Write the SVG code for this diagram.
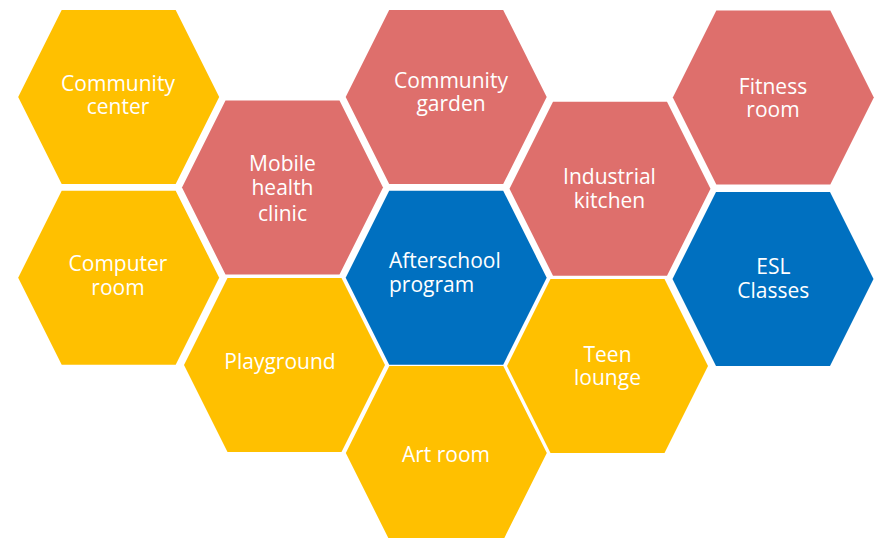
<svg xmlns="http://www.w3.org/2000/svg" width="882" height="538" viewBox="0 0 882 538">
  <style>
    .y { fill: #FFC000; }
    .r { fill: #DE6F6C; }
    .b { fill: #0070C0; }
    text { font-family: "Open Sans", "DejaVu Sans", sans-serif; font-size: 21px; fill: #FFFFFF; text-anchor: middle; }
    .left { text-anchor: start; }
  </style>
  <defs>
    <path id="hex" d="M -100.5 0 L -57 -87 L 57 -87 L 100.5 0 L 57 87 L -57 87 Z"/>
  </defs>
  <rect x="0" y="0" width="882" height="538" fill="#FFFFFF"/>
  <g id="connectors"/>
  <g id="community-center">
    <use href="#hex" class="y" transform="translate(118.7 97)"/>
    <text x="118" y="91">Community</text>
    <text x="118" y="114">center</text>
  </g>
  <g id="computer-room">
    <use href="#hex" class="y" transform="translate(118.7 277.7)"/>
    <text x="118" y="271">Computer</text>
    <text x="118" y="295">room</text>
  </g>
  <g id="mobile-health-clinic">
    <use href="#hex" class="r" transform="translate(282.5 187.5)"/>
    <text x="282.5" y="171">Mobile</text>
    <text x="282.5" y="195">health</text>
    <text x="282.5" y="221">clinic</text>
  </g>
  <g id="playground">
    <use href="#hex" class="y" transform="translate(284.5 365)"/>
    <text x="280" y="369">Playground</text>
  </g>
  <g id="community-garden">
    <use href="#hex" class="r" transform="translate(446.2 97)"/>
    <text x="451" y="88">Community</text>
    <text x="451" y="111">garden</text>
  </g>
  <g id="afterschool-program">
    <use href="#hex" class="b" transform="translate(446.2 277.7)"/>
    <text class="left" x="389" y="268">Afterschool</text>
    <text class="left" x="389" y="292">program</text>
  </g>
  <g id="art-room">
    <use href="#hex" class="y" transform="translate(446.3 453)"/>
    <text x="446" y="462">Art room</text>
  </g>
  <g id="industrial-kitchen">
    <use href="#hex" class="r" transform="translate(610 188.7)"/>
    <text x="609.5" y="184">Industrial</text>
    <text x="609.5" y="208">kitchen</text>
  </g>
  <g id="teen-lounge">
    <use href="#hex" class="y" transform="translate(607.5 366)"/>
    <text x="607.5" y="362">Teen</text>
    <text x="607.5" y="385">lounge</text>
  </g>
  <g id="fitness-room">
    <use href="#hex" class="r" transform="translate(773.3 97.5)"/>
    <text x="773" y="94">Fitness</text>
    <text x="773" y="117">room</text>
  </g>
  <g id="esl-classes">
    <use href="#hex" class="b" transform="translate(773 279)"/>
    <text x="773.3" y="274">ESL</text>
    <text x="773.3" y="298">Classes</text>
  </g>
</svg>
